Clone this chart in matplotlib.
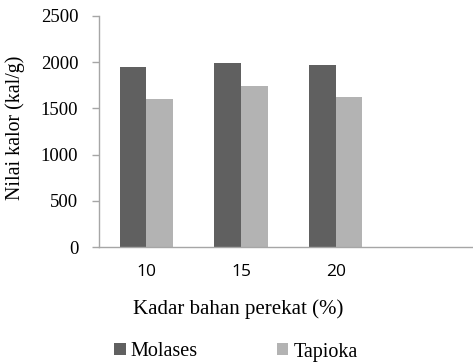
import matplotlib
matplotlib.use("Agg")
import matplotlib.pyplot as plt
import numpy as np

categories = ["10", "15", "20"]
molases = [1950, 1990, 1970]
tapioka = [1605, 1745, 1620]
series_names = ["Molases", "Tapioka"]
yticks = [0, 500, 1000, 1500, 2000, 2500]

serif = ["Liberation Serif", "DejaVu Serif"]
sans = ["Open Sans", "DejaVu Sans"]

fig = plt.figure(figsize=(4.73, 3.62), dpi=100)
ax = fig.add_axes([99/473, 1-247/362, 1-99/473, (247-16)/362])

x = np.arange(len(categories))
w = 0.282
b1 = ax.bar(x - w/2, molases, width=w, color="#606060", label=series_names[0])
b2 = ax.bar(x + w/2, tapioka, width=w, color="#b3b3b3", label=series_names[1])

ax.set_xlim(-0.5, 3.45)
ax.set_ylim(0, 2500)
ax.set_yticks(yticks)
ax.set_yticklabels([str(t) for t in yticks], fontfamily=serif, fontsize=13.5)
ax.set_xticks(x)
ax.set_xticklabels(categories, fontfamily=sans, fontsize=12.5)
ax.tick_params(axis="x", length=0, pad=12)
ax.tick_params(axis="y", length=5, width=1, color="#a6a6a6", pad=10)

for s in ["top", "right"]:
    ax.spines[s].set_visible(False)
for s in ["left", "bottom"]:
    ax.spines[s].set_color("#a6a6a6")
    ax.spines[s].set_linewidth(1)

fig.text(15/473, 1-128/362, "Nilai kalor (kal/g)", rotation=90, ha="center", va="center",
         fontfamily=serif, fontsize=14.3)
fig.text(238/473, 1-309/362, "Kadar bahan perekat (%)", ha="center", va="center",
         fontfamily=serif, fontsize=15)

leg = fig.legend(handles=[b1, b2], labels=series_names, loc="center", bbox_to_anchor=(236/473, 1-352/362),
                 ncol=2, frameon=False, prop={"family": serif, "size": 14.5},
                 handlelength=0.55, handleheight=0.55, handletextpad=0.25, columnspacing=3.95,
                 borderpad=0, borderaxespad=0)

fig.savefig("out.png", dpi=100)
